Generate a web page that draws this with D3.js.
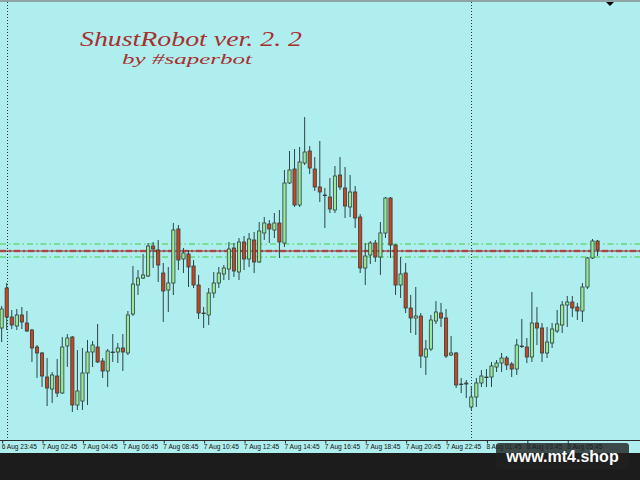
<!DOCTYPE html>
<html>
<head>
<meta charset="utf-8">
<script src="https://cdn.jsdelivr.net/npm/d3@7/dist/d3.min.js"></script>
<style>
html,body{margin:0;padding:0;background:#1c1c1c;}
svg{display:block;}
</style>
</head>
<body>
<svg id="chart" width="640" height="480"></svg>
<script>
// ---- data (M15 candles) ----
const openP = [1.1672,1.1712,1.1683,1.1674,1.1685,1.1677,1.1670,1.1653,1.1647,1.1623,
1.1611,1.1624,1.1607,1.1654,1.1663,1.1595,1.1599,1.1627,1.1648,1.1653,
1.1639,1.1629,1.1648,1.1648,1.1652,1.1647,1.1686,1.1715,1.1722,1.1724,
1.1754,1.1750,1.1727,1.1710,1.1717,1.1771,1.1741,1.1746,1.1734,1.1715,
1.1687,1.1685,1.1707,1.1717,1.1726,1.1731,1.1752,1.1728,1.1758,1.1741,
1.1760,1.1738,1.1767,1.1776,1.1770,1.1777,1.1757,1.1817,1.1831,1.1795,
1.1837,1.1849,1.1831,1.1813,1.1805,1.1803,1.1790,1.1825,1.1812,1.1793,
1.1808,1.1783,1.1732,1.1745,1.1757,1.1743,1.1767,1.1802,1.1755,1.1715,
1.1727,1.1692,1.1682,1.1684,1.1643,1.1651,1.1679,1.1687,1.1682,1.1645,
1.1647,1.1616,1.1617,1.1593,1.1603,1.1617,1.1623,1.1623,1.1633,1.1637,
1.1642,1.1636,1.1631,1.1654,1.1653,1.1643,1.1677,1.1672,1.1647,1.1657,
1.1669,1.1675,1.1695,1.1698,1.1693,1.1689,1.1713,1.1742,1.1759];
const highP = [1.1694,1.1717,1.1690,1.1691,1.1693,1.1689,1.1671,1.1655,1.1648,1.1642,
1.1628,1.1641,1.1663,1.1666,1.1664,1.1650,1.1652,1.1660,1.1659,1.1676,
1.1642,1.1651,1.1666,1.1657,1.1666,1.1689,1.1734,1.1730,1.1746,1.1757,
1.1758,1.1760,1.1737,1.1733,1.1777,1.1775,1.1752,1.1750,1.1740,1.1725,
1.1693,1.1712,1.1728,1.1733,1.1735,1.1758,1.1757,1.1762,1.1764,1.1767,
1.1768,1.1778,1.1783,1.1780,1.1787,1.1790,1.1830,1.1849,1.1851,1.1853,
1.1883,1.1854,1.1843,1.1859,1.1812,1.1822,1.1834,1.1843,1.1833,1.1825,
1.1814,1.1786,1.1757,1.1759,1.1760,1.1778,1.1803,1.1803,1.1756,1.1743,
1.1737,1.1705,1.1713,1.1687,1.1660,1.1685,1.1699,1.1697,1.1691,1.1664,
1.1648,1.1622,1.1620,1.1614,1.1622,1.1630,1.1631,1.1638,1.1640,1.1647,
1.1644,1.1638,1.1661,1.1681,1.1662,1.1708,1.1693,1.1677,1.1673,1.1677,
1.1690,1.1699,1.1704,1.1704,1.1697,1.1717,1.1743,1.1761,1.1760];
const lowP = [1.1658,1.1670,1.1671,1.1670,1.1671,1.1668,1.1638,1.1622,1.1613,1.1594,
1.1597,1.1603,1.1606,1.1633,1.1588,1.1590,1.1590,1.1595,1.1633,1.1637,
1.1622,1.1613,1.1638,1.1637,1.1629,1.1645,1.1684,1.1705,1.1721,1.1723,
1.1732,1.1718,1.1678,1.1688,1.1705,1.1730,1.1727,1.1713,1.1712,1.1681,
1.1672,1.1675,1.1702,1.1712,1.1720,1.1720,1.1723,1.1720,1.1730,1.1733,
1.1727,1.1737,1.1760,1.1757,1.1762,1.1742,1.1753,1.1816,1.1793,1.1793,
1.1835,1.1826,1.1809,1.1798,1.1772,1.1787,1.1787,1.1810,1.1782,1.1783,
1.1772,1.1727,1.1715,1.1736,1.1738,1.1725,1.1762,1.1742,1.1705,1.1702,
1.1687,1.1667,1.1665,1.1632,1.1625,1.1649,1.1676,1.1673,1.1642,1.1644,
1.1612,1.1607,1.1602,1.1590,1.1593,1.1613,1.1613,1.1613,1.1628,1.1628,
1.1630,1.1623,1.1625,1.1652,1.1637,1.1638,1.1655,1.1638,1.1642,1.1652,
1.1667,1.1667,1.1673,1.1683,1.1680,1.1678,1.1711,1.1741,1.1744];
const closeP = [1.1691,1.1683,1.1675,1.1685,1.1678,1.1669,1.1652,1.1647,1.1624,1.1612,
1.1625,1.1607,1.1653,1.1662,1.1595,1.1609,1.1627,1.1648,1.1655,1.1638,
1.1629,1.1649,1.1648,1.1652,1.1648,1.1685,1.1716,1.1722,1.1725,1.1754,
1.1751,1.1735,1.1709,1.1717,1.1770,1.1740,1.1747,1.1733,1.1715,1.1687,
1.1687,1.1707,1.1717,1.1727,1.1732,1.1751,1.1729,1.1758,1.1741,1.1761,
1.1738,1.1769,1.1777,1.1771,1.1777,1.1758,1.1817,1.1830,1.1795,1.1838,
1.1848,1.1832,1.1813,1.1808,1.1805,1.1791,1.1824,1.1813,1.1794,1.1808,
1.1782,1.1732,1.1744,1.1757,1.1743,1.1767,1.1802,1.1755,1.1715,1.1726,
1.1692,1.1682,1.1684,1.1644,1.1651,1.1680,1.1688,1.1682,1.1644,1.1647,
1.1615,1.1616,1.1616,1.1603,1.1617,1.1624,1.1623,1.1634,1.1637,1.1642,
1.1635,1.1631,1.1655,1.1654,1.1643,1.1677,1.1672,1.1647,1.1658,1.1671,
1.1676,1.1695,1.1698,1.1692,1.1689,1.1713,1.1742,1.1759,1.1750];

const tickIndex  = [0,8,16,24,32,40,48,56,64,72,80,88,96,104,112];
const tickLabels = ["6 Aug 23:45","7 Aug 02:45","7 Aug 04:45","7 Aug 06:45","7 Aug 08:45",
"7 Aug 10:45","7 Aug 12:45","7 Aug 14:45","7 Aug 16:45","7 Aug 18:45","7 Aug 20:45",
"7 Aug 22:45","8 Aug 01:45","8 Aug 03:45","8 Aug 05:45"];
const daySeparators = [1, 93];
const levelMain = [1.1749];
const levelBand = [1.1756, 1.1743];
const titleText = "ShustRobot ver. 2. 2";
const subtitleText = "by #saperbot";
const watermarkText = "www.mt4.shop";

// ---- drawing ----
const W = 640, H = 480, plotBottom = 440.5;
const svg = d3.select("#chart");
const candles = openP.map((o,i)=>({i, o, h:highP[i], l:lowP[i], c:closeP[i]}));

const x = d3.scaleLinear().domain([0, candles.length-1]).range([1.65, 1.65 + 5.05*(candles.length-1)]);
const y = d3.scaleLinear().domain([1.1560, 1.2000]).range([440, 0]);

svg.append("rect").attr("width",W).attr("height",H).attr("fill","#1c1c1c");
svg.append("rect").attr("x",0).attr("y",0).attr("width",W).attr("height",453).attr("fill","#AFEEEE");
svg.append("rect").attr("x",0).attr("y",0).attr("width",W).attr("height",2).attr("fill","#8fa3a3");

// day separators
svg.selectAll(".sep").data(daySeparators).join("line")
  .attr("x1",d=>Math.round(x(d))+0.5).attr("x2",d=>Math.round(x(d))+0.5)
  .attr("y1",2).attr("y2",plotBottom)
  .attr("stroke","#333").attr("stroke-width",1).attr("stroke-dasharray","1,2");

// level lines
svg.selectAll(".band").data(levelBand).join("line")
  .attr("x1",0).attr("x2",W).attr("y1",d=>y(d)).attr("y2",d=>y(d))
  .attr("stroke","#3ccf3c").attr("stroke-width",1).attr("stroke-dasharray","6,3,1.5,3");
svg.selectAll(".main").data(levelMain).join("line")
  .attr("x1",0).attr("x2",W).attr("y1",d=>y(d)).attr("y2",d=>y(d))
  .attr("stroke","#e0574c").attr("stroke-width",2.6).attr("stroke-dasharray","6,3,2,3").attr("opacity",0.85);
svg.selectAll(".mainS").data(levelMain).join("line")
  .attr("x1",0).attr("x2",W).attr("y1",d=>y(d)).attr("y2",d=>y(d))
  .attr("stroke","#7a2020").attr("stroke-width",1);

// candles
const g = svg.append("g");
g.selectAll(".wick").data(candles).join("line")
  .attr("x1",d=>x(d.i)).attr("x2",d=>x(d.i))
  .attr("y1",d=>y(d.h)).attr("y2",d=>y(d.l))
  .attr("stroke","#2f4444").attr("stroke-width",1);
g.selectAll(".body").data(candles).join("rect")
  .attr("x",d=>x(d.i)-1.6).attr("width",3.2)
  .attr("y",d=>y(Math.max(d.o,d.c)))
  .attr("height",d=>Math.max(0.6, Math.abs(y(d.o)-y(d.c))))
  .attr("fill",d=>d.c>d.o ? "#98e898" : (d.c<d.o ? "#c8451f" : "#2f3f3f"))
  .attr("stroke","#2f3f3f").attr("stroke-width",0.8);

// x axis
svg.append("line").attr("x1",0).attr("x2",W).attr("y1",plotBottom).attr("y2",plotBottom)
  .attr("stroke","#2a2a2a").attr("stroke-width",1);
const ax = svg.append("g");
ax.selectAll("line").data(tickIndex).join("line")
  .attr("x1",d=>x(d)+1).attr("x2",d=>x(d)+1).attr("y1",plotBottom).attr("y2",plotBottom+3)
  .attr("stroke","#2a2a2a").attr("stroke-width",1);
ax.selectAll("text").data(tickIndex).join("text")
  .attr("x",d=>x(d)).attr("y",448.5)
  .attr("font-family","Liberation Sans, Arial, sans-serif").attr("font-size",6.6)
  .attr("fill","#111").text((d,k)=>tickLabels[k]);

// title
svg.append("text").attr("x",80).attr("y",46).text(titleText)
  .attr("font-family","Liberation Serif, serif").attr("font-style","italic")
  .attr("font-size",22).attr("fill","#a8302e")
  .attr("textLength",222).attr("lengthAdjust","spacingAndGlyphs");
svg.append("text").attr("x",122).attr("y",64).text(subtitleText)
  .attr("font-family","Liberation Serif, serif").attr("font-style","italic")
  .attr("font-size",15.5).attr("fill","#a8302e")
  .attr("textLength",130).attr("lengthAdjust","spacingAndGlyphs");

// top-right shift marker
svg.append("path").attr("d","M606,2 L614,2 L610,6 Z").attr("fill","#000");

// watermark
svg.append("rect").attr("x",496).attr("y",443).attr("width",133).attr("height",26).attr("rx",3)
  .attr("fill","#202020").attr("opacity",0.8);
svg.append("text").attr("x",562.5).attr("y",462).attr("text-anchor","middle").text(watermarkText)
  .attr("font-family","Liberation Sans, Arial, sans-serif").attr("font-weight","bold")
  .attr("font-size",16).attr("fill","#ffffff");
</script>
</body>
</html>
